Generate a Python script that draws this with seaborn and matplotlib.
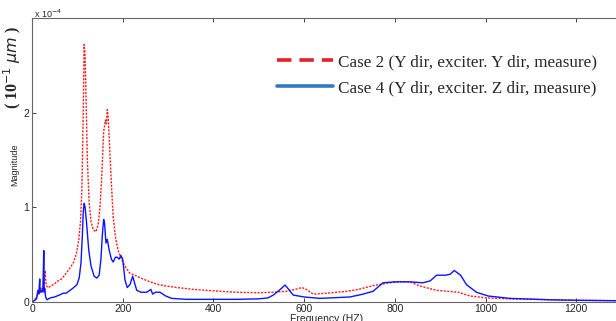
import matplotlib
matplotlib.use("Agg")
import matplotlib.pyplot as plt
from matplotlib.lines import Line2D
import seaborn as sns
import pandas as pd

# Case 2 (red, dotted) - frequency (Hz) and magnitude (x1e-4)
f_case2 = [0, 5, 10, 15, 20, 24, 27, 29, 31, 34, 40, 50, 60, 65, 70, 80, 91, 98, 103, 107,
           110, 113, 115, 117, 119, 122, 126, 130, 135, 141, 146, 150, 154, 158, 162, 164, 166, 168, 171, 175,
           179, 184, 190, 198, 207, 216, 227, 240, 260, 280, 297, 320, 356, 400, 451, 500, 532, 560, 580, 595,
           605, 620, 650, 694, 720, 752, 789, 810, 833, 856, 892, 940, 966, 1003, 1050, 1105, 1200, 1300]
m_case2 = [0, 0.02, 0.05, 0.10, 0.15, 0.12, 0.25, 0.33, 0.18, 0.15, 0.16, 0.19, 0.23, 0.24, 0.27, 0.33, 0.41, 0.51, 0.65, 0.85,
           1.2, 2.0, 2.72, 2.6, 2.2, 1.5, 1.05, 0.85, 0.76, 0.74, 0.82, 1.0, 1.35, 1.8, 1.92, 1.88, 2.03, 1.95, 1.65, 1.25,
           0.9, 0.68, 0.54, 0.44, 0.36, 0.30, 0.28, 0.25, 0.21, 0.18, 0.165, 0.15, 0.13, 0.115, 0.10, 0.095, 0.10, 0.11, 0.13, 0.15,
           0.13, 0.08, 0.09, 0.11, 0.13, 0.17, 0.20, 0.21, 0.21, 0.165, 0.12, 0.10, 0.06, 0.04, 0.03, 0.025, 0.015, 0.01]

# Case 4 (blue, solid)
f_case4 = [0, 5, 10, 13, 15, 17, 18, 20, 22, 24, 26, 27, 28, 30, 33, 40, 50, 60, 69, 75,
           84, 92, 99, 104, 108, 111, 113, 115, 117, 120, 125, 130, 137, 143, 148, 152, 155, 158, 160, 163,
           166, 170, 175, 179, 184, 188, 192, 196, 200, 205, 210, 216, 222, 226, 231, 240, 253, 262, 266, 272,
           282, 295, 308, 340, 400, 450, 500, 520, 532, 545, 558, 566, 576, 600, 635, 701, 730, 752, 774, 800,
           833, 862, 878, 892, 911, 922, 931, 945, 958, 980, 1006, 1054, 1142, 1200, 1300]
m_case4 = [0, 0.01, 0.03, 0.12, 0.08, 0.24, 0.1, 0.12, 0.10, 0.13, 0.54, 0.1, 0.14, 0.05, 0.02, 0.04, 0.05, 0.07, 0.09, 0.09,
           0.12, 0.15, 0.18, 0.25, 0.41, 0.7, 0.95, 1.04, 1.0, 0.85, 0.55, 0.38, 0.27, 0.25, 0.28, 0.45, 0.7, 0.87, 0.83, 0.62,
           0.66, 0.55, 0.45, 0.42, 0.47, 0.47, 0.45, 0.49, 0.45, 0.23, 0.15, 0.18, 0.27, 0.2, 0.12, 0.10, 0.10, 0.13, 0.08, 0.10,
           0.10, 0.06, 0.035, 0.025, 0.025, 0.025, 0.03, 0.04, 0.07, 0.12, 0.176, 0.13, 0.07, 0.05, 0.035, 0.05, 0.08, 0.11, 0.2, 0.21,
           0.21, 0.20, 0.22, 0.28, 0.28, 0.29, 0.33, 0.28, 0.18, 0.10, 0.06, 0.035, 0.02, 0.015, 0.01]

legend_labels = ["Case 2 (Y dir, exciter. Y dir, measure)",
                 "Case 4 (Y dir, exciter. Z dir, measure)"]
x_ticks = [0, 200, 400, 600, 800, 1000, 1200]
y_ticks = [0, 1, 2]

sns.set_style("ticks")
plt.rcParams['font.family'] = ['Liberation Sans', 'DejaVu Sans']

fig = plt.figure(figsize=(6.16, 3.21), dpi=100)
ax = fig.add_axes([32 / 616, 1 - 301.7 / 321, 589.6 / 616, (301.7 - 18) / 321])

df2 = pd.DataFrame({"f": f_case2, "m": m_case2})
df4 = pd.DataFrame({"f": f_case4, "m": m_case4})
sns.lineplot(data=df2, x="f", y="m", ax=ax, color="#ff1a1a", linestyle=(0, (1.5, 1)), linewidth=1.0)
sns.lineplot(data=df4, x="f", y="m", ax=ax, color="#0a14ff", linestyle="-", linewidth=1.0)

ax.set_xlim(0, 1300)
ax.set_ylim(0, 3)
ax.set_xticks(x_ticks)
ax.set_yticks(y_ticks)
ax.set_xticklabels([str(t) for t in x_ticks], fontsize=7.5)
ax.set_yticklabels([str(t) for t in y_ticks], fontsize=7.5)
ax.tick_params(direction="in", length=3, width=0.6, pad=2, colors="#222222")
ax.tick_params(top=True)
for s in ["left", "bottom", "top", "right"]:
    ax.spines[s].set_color("#666666")
    ax.spines[s].set_linewidth(0.8)

ax.set_xlabel("Frequency (HZ)", fontsize=7.5, labelpad=-0.5)
ax.set_ylabel("")
fig.text(15 / 616, 1 - 165 / 321, "Magnitude", rotation=90, fontsize=6.5,
         ha="center", va="center")
fig.text(12 / 616, 1 - 68 / 321, r"( 10$^{-1}$ $\mu m$ )", rotation=90, fontsize=11.5,
         ha="center", va="center", fontweight="bold", family=["Liberation Serif", "DejaVu Serif"])
fig.text(34 / 616, 1 - 14 / 321, r"x 10$^{-4}$", fontsize=6.5, ha="left", va="center")

handles = [Line2D([], [], color="#e3202a", linestyle=(0, (4.0, 2.2)), linewidth=2.6),
           Line2D([], [], color="#2f7ac0", linestyle="-", linewidth=2.6)]
leg = fig.legend(handles=handles, labels=legend_labels, loc="upper left",
                 bbox_to_anchor=(277 / 616, 1 - 54 / 321), bbox_transform=fig.transFigure,
                 frameon=False, borderpad=0, borderaxespad=0, handlelength=3.3,
                 handletextpad=0.3, labelspacing=0.6,
                 prop={"family": ["Liberation Serif", "DejaVu Serif"], "size": 12.3})

fig.savefig("out.png", dpi=100)
